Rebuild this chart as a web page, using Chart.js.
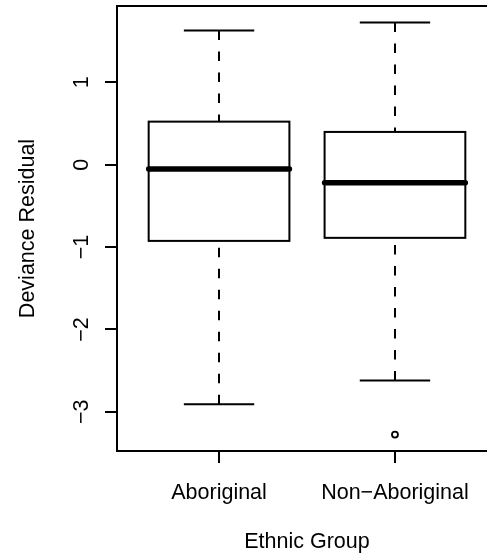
<!DOCTYPE html>
<html>
<head>
<meta charset="utf-8">
<script src="https://cdn.jsdelivr.net/npm/chart.js@4/dist/chart.umd.min.js"></script>
<style>
	html, body { margin: 0; padding: 0; background: #fff; overflow: hidden; }
	canvas { display: block; }
</style>
</head>
<body>
<canvas id="box" width="510" height="557"></canvas>
<script>
//box statistics, one entry per group
const groups = ['Aboriginal', 'Non\u2212Aboriginal'];
const whiskerLow = [-2.908, -2.619];
const quartileLow = [-0.925, -0.888];
const medians = [-0.052, -0.219];
const quartileHigh = [0.523, 0.398];
const whiskerHigh = [1.630, 1.727];

//points beyond the whiskers
const outlierGroup = [2];
const outlierValues = [-3.276];

//axis ticks
const yTicks = [-3, -2, -1, 0, 1];

const FONT = "'Liberation Sans', Arial, sans-serif";
const FONT_SIZE = 21.5;

//formats a number the way R does, with a real minus sign
function rLabel(v) {
	return v < 0 ? '\u2212' + Math.abs(v) : String(v);
}

//draws the boxes, whiskers, y tick labels and the frame through the chart scales
const boxPlugin = {
	id: 'boxPlugin',
	beforeDatasetsDraw(chart) {
		const ctx = chart.ctx;
		const xs = chart.scales.x;
		const ys = chart.scales.y;

		ctx.save();
		ctx.strokeStyle = '#000';

		groups.forEach((g, i) => {
			const xc = Math.round(xs.getPixelForValue(i + 1));
			const xl = xs.getPixelForValue(i + 1 - 0.4);
			const xr = xs.getPixelForValue(i + 1 + 0.4);
			const cl = xs.getPixelForValue(i + 1 - 0.2);
			const cr = xs.getPixelForValue(i + 1 + 0.2);
			const yMin = ys.getPixelForValue(whiskerLow[i]);
			const yQ1 = ys.getPixelForValue(quartileLow[i]);
			const yMed = ys.getPixelForValue(medians[i]);
			const yQ3 = ys.getPixelForValue(quartileHigh[i]);
			const yMax = ys.getPixelForValue(whiskerHigh[i]);

			//dashed whiskers, drawn from the extremes towards the box
			ctx.lineWidth = 2;
			ctx.lineCap = 'butt';
			ctx.setLineDash([9.5, 11.5]);
			ctx.beginPath();
			ctx.moveTo(xc, yMin);
			ctx.lineTo(xc, yQ1);
			ctx.moveTo(xc, yMax);
			ctx.lineTo(xc, yQ3);
			ctx.stroke();
			ctx.setLineDash([]);

			//staples
			ctx.beginPath();
			ctx.moveTo(cl, yMin);
			ctx.lineTo(cr, yMin);
			ctx.moveTo(cl, yMax);
			ctx.lineTo(cr, yMax);
			ctx.stroke();

			//box
			ctx.fillStyle = '#fff';
			ctx.fillRect(xl, yQ3, xr - xl, yQ1 - yQ3);
			ctx.strokeRect(xl, yQ3, xr - xl, yQ1 - yQ3);

			//median
			ctx.lineWidth = 5.5;
			ctx.lineCap = 'round';
			ctx.beginPath();
			ctx.moveTo(xl, yMed);
			ctx.lineTo(xr, yMed);
			ctx.stroke();
		});

		ctx.restore();
	},
	afterDraw(chart) {
		const ctx = chart.ctx;
		const a = chart.chartArea;
		const ys = chart.scales.y;

		ctx.save();

		//plot frame
		ctx.strokeStyle = '#000';
		ctx.lineWidth = 2;
		ctx.strokeRect(a.left, a.top, a.right - a.left, a.bottom - a.top);

		//y tick labels, rotated like R's default
		ctx.fillStyle = '#000';
		ctx.font = FONT_SIZE + 'px ' + FONT;
		ctx.textAlign = 'center';
		ctx.textBaseline = 'alphabetic';
		yTicks.forEach(v => {
			ctx.save();
			ctx.translate(88, ys.getPixelForValue(v));
			ctx.rotate(-Math.PI / 2);
			ctx.fillText(rLabel(v), 0, 0);
			ctx.restore();
		});

		ctx.restore();
	}
};

const outliers = outlierGroup.map((g, i) => ({ x: g, y: outlierValues[i] }));

const ctx = document.getElementById('box').getContext('2d');

new Chart(ctx, {
	type: 'scatter',
	data: {
		datasets: [{
			data: outliers,
			pointRadius: 3,
			pointHoverRadius: 3,
			borderWidth: 1.8,
			borderColor: '#000',
			backgroundColor: '#fff'
		}]
	},
	options: {
		responsive: false,
		animation: false,
		events: [],
		layout: {
			padding: { top: 6, right: 13, left: 0, bottom: 0 }
		},
		plugins: {
			legend: { display: false },
			tooltip: { enabled: false }
		},
		scales: {
			x: {
				type: 'linear',
				min: 0.42,
				max: 2.58,
				afterBuildTicks: s => {
					s.ticks = groups.map((g, i) => ({ value: i + 1 }));
				},
				afterFit: s => {
					s.height = 106;
				},
				ticks: {
					callback: v => groups[Math.round(v) - 1],
					color: '#000',
					font: { family: FONT, size: FONT_SIZE },
					padding: 17,
					maxRotation: 0,
					autoSkip: false
				},
				grid: {
					drawOnChartArea: false,
					tickLength: 12,
					lineWidth: 2,
					color: '#000'
				},
				border: { display: false },
				title: {
					display: true,
					text: 'Ethnic Group',
					color: '#000',
					font: { family: FONT, size: FONT_SIZE },
					padding: { top: 0, bottom: 2 }
				}
			},
			y: {
				type: 'linear',
				min: -3.476,
				max: 1.927,
				afterBuildTicks: s => {
					s.ticks = yTicks.map(v => ({ value: v }));
				},
				afterFit: s => {
					s.width = 117;
				},
				ticks: { display: false },
				grid: {
					drawOnChartArea: false,
					tickLength: 12,
					lineWidth: 2,
					color: '#000'
				},
				border: { display: false },
				title: {
					display: true,
					text: 'Deviance Residual',
					color: '#000',
					font: { family: FONT, size: FONT_SIZE },
					padding: { top: 15, bottom: 0 }
				}
			}
		}
	},
	plugins: [boxPlugin]
});
</script>
</body>
</html>
